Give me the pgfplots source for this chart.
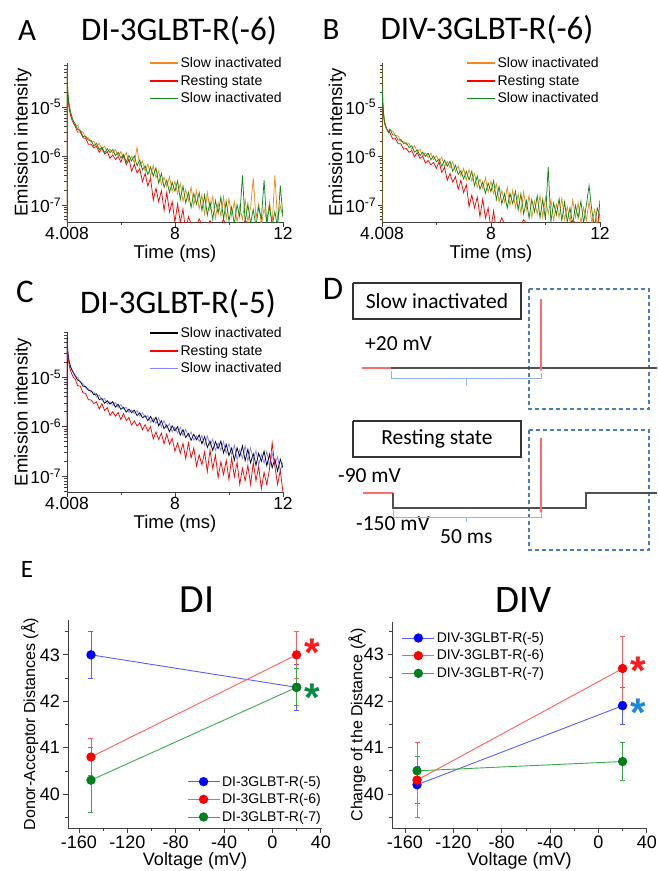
\documentclass[border=0pt]{standalone}
\usepackage{fontspec}
\setmainfont{Liberation Sans}
\newfontfamily\calib{Carlito}
\usepackage{pgfplots}
\pgfplotsset{compat=1.18}
\usetikzlibrary{arrows.meta}

\definecolor{cOr}{HTML}{F5881A}
\definecolor{cRd}{HTML}{FF0000}
\definecolor{cGn}{HTML}{0C8A1C}
\definecolor{cBl}{HTML}{2020FF}
\definecolor{eBl}{HTML}{0000FF}
\definecolor{eBlL}{HTML}{5C5CFF}
\definecolor{eRd}{HTML}{FF0000}
\definecolor{eRdL}{HTML}{FF5C5C}
\definecolor{eGn}{HTML}{00801A}
\definecolor{eGnL}{HTML}{3CAA4C}
\definecolor{astR}{HTML}{FF1A1A}
\definecolor{astG}{HTML}{0A8A46}
\definecolor{astB}{HTML}{1E88D8}
\definecolor{dRed}{HTML}{FF6A6A}
\definecolor{dGray}{HTML}{505050}
\definecolor{dBr}{HTML}{8FB8E6}
\definecolor{dDash}{HTML}{4A7EBB}

\begin{document}
\begin{tikzpicture}
\useasboundingbox (0pt,0pt) rectangle (657pt,-871pt);

% ---------------- Panel A ----------------
\begin{semilogyaxis}[scale only axis, at={(67pt,-222pt)}, anchor=south west, width=216pt, height=159pt,
  xmin=4.008, xmax=12, ymin=4.5e-8, ymax=7.9e-5,
  axis lines*=left, axis line style={black!75, line width=0.8pt},
  tick align=outside, tick style={black!75, line width=0.6pt},
  major tick length=4.5pt, minor tick length=2.5pt,
  xtick={4.008,8,12}, xticklabels={4.008,8,12}, minor xtick={6,10},
  ytick={1e-7,1e-6,1e-5},
  yticklabels={10\textsuperscript{-7},10\textsuperscript{-6},10\textsuperscript{-5}},
  minor ytick={5e-8,6e-8,7e-8,8e-8,9e-8,2e-7,3e-7,4e-7,5e-7,6e-7,7e-7,8e-7,9e-7,2e-6,3e-6,4e-6,5e-6,6e-6,7e-6,8e-6,9e-6,2e-5,3e-5,4e-5,5e-5,6e-5,7e-5},
  tick label style={font=\fontsize{17.5}{20}\selectfont},
  xticklabel style={inner sep=1pt}, yticklabel style={inner sep=1pt},
  xlabel={Time (ms)}, ylabel={Emission intensity},
  label style={font=\fontsize{18.5}{21}\selectfont},
  xlabel style={at={(axis description cs:0.5,-0.2)}, anchor=center},
  ylabel style={at={(axis description cs:-0.205,0.5)}, anchor=center},
  legend cell align=left,
  legend style={at={(1,1)}, anchor=north east, xshift=1pt, yshift=7.75pt, draw=none, fill=none,
     font=\fontsize{14}{16}\selectfont, inner sep=0pt, row sep=2pt},
  legend image code/.code={\draw[#1, line width=1.6pt] (0pt,0pt) -- (28pt,0pt);}]
\addplot[line width=0.75pt, color=cOr] coordinates {(4.008,4.5e-8)(4.01,6e-5)(4.02,3.5e-5)(4.04,2e-5)(4.07,1.3e-5)(4.1,1e-5)(4.15,7.5e-6)(4.2,6e-6)(4.25,5e-6)
(4.3,4.3e-6)(4.4,4.2e-6)(4.5,3.2e-6)(4.6,3.1e-6)(4.7,2.3e-6)(4.8,2.35e-6)(4.9,1.9e-6)(5.0,2.0e-6)
(5.1,1.53e-6)(5.2,1.82e-6)(5.3,1.4e-6)(5.4,1.58e-6)(5.5,1.19e-6)(5.6,1.38e-6)(5.7,1.14e-6)(5.8,1.36e-6)(5.9,1.01e-6)(6.0,1.23e-6)
(6.1,9.3e-7)(6.2,1.17e-6)(6.3,7.6e-7)(6.4,9.95e-7)(6.5,7.3e-7)(6.6,1.5e-6)(6.7,6.1e-7)(6.8,7.9e-7)(6.9,4.9e-7)(7.0,6.9e-7)
(7.1,3.9e-7)(7.2,6.4e-7)(7.3,3.6e-7)(7.4,5.0e-7)(7.5,2.6e-7)(7.6,3.7e-7)(7.7,2.4e-7)(7.8,3.8e-7)(7.9,1.9e-7)(8.0,3.05e-7)
(8.1,1.7e-7)(8.2,2.75e-7)(8.3,1.19e-7)(8.4,2.07e-7)(8.5,1.2e-7)(8.6,2.3e-7)(8.7,9.7e-8)(8.8,1.96e-7)(8.9,8.4e-8)(9.0,1.6e-7)
(9.1,6.5e-8)(9.2,1.8e-7)(9.3,7.8e-8)(9.4,1.48e-7)(9.5,5.4e-8)(9.6,1.12e-7)(9.7,6.0e-8)(9.8,1.48e-7)(9.9,5.2e-8)(10.0,1.35e-7)
(10.1,6.0e-8)(10.2,1.17e-7)(10.3,4.5e-8)(10.4,9.5e-8)(10.5,5.1e-8)(10.6,1.29e-7)(10.7,4.6e-8)(10.8,8.7e-8)(10.9,3.5e-7)(11.0,5.4e-8)
(11.1,1.05e-7)(11.2,4.0e-8)(11.3,8.5e-8)(11.4,4.7e-8)(11.5,1.15e-7)(11.6,4.2e-8)(11.7,4.0e-7)(11.8,4.9e-8)(11.9,9.5e-8)(12.0,5.9e-8)};
\addlegendentry{Slow inactivated}
\addplot[line width=0.75pt, color=cRd] coordinates {(4.008,4.5e-8)(4.01,5.5e-5)(4.02,3e-5)(4.04,1.7e-5)(4.07,1.1e-5)(4.1,8.5e-6)(4.15,6.5e-6)(4.2,5.3e-6)(4.25,4.6e-6)
(4.3,4.2e-6)(4.4,3.07e-6)(4.5,3.1e-6)(4.6,2.35e-6)(4.7,2.28e-6)(4.8,1.74e-6)(4.9,1.75e-6)(5.0,1.47e-6)
(5.1,1.58e-6)(5.2,1.19e-6)(5.3,1.45e-6)(5.4,1.1e-6)(5.5,1.22e-6)(5.6,9.0e-7)(5.7,1.05e-6)(5.8,8.5e-7)(5.9,9.8e-7)(6.0,7.5e-7)
(6.1,1.05e-6)(6.2,6.6e-7)(6.3,8.7e-7)(6.4,4.9e-7)(6.5,6.8e-7)(6.6,4.5e-7)(6.7,5.5e-7)(6.8,3.0e-7)(6.9,4.4e-7)(7.0,2.45e-7)
(7.1,3.5e-7)(7.2,1.26e-7)(7.3,2.2e-7)(7.4,1.17e-7)(7.5,1.95e-7)(7.6,7.8e-8)(7.7,1.8e-7)(7.8,7.2e-8)(7.9,1.17e-7)(8.0,4.5e-8)
(8.1,1.05e-7)(8.2,4.4e-8)(8.3,8.3e-8)(8.4,2.8e-8)(8.5,5.8e-8)(8.7,3e-8)(8.9,5.2e-8)(9.1,3e-8)(9.3,4.8e-8)(9.5,3e-8)(9.8,5.0e-8)(10.0,3e-8)(10.3,3e-8)(10.6,4.8e-8)(11.0,3e-8)(11.4,3e-8)(12.0,3e-8)};
\addlegendentry{Resting state}
\addplot[line width=0.75pt, color=cGn] coordinates {(4.008,4.5e-8)(4.01,6.5e-5)(4.02,3.5e-5)(4.04,2e-5)(4.07,1.3e-5)(4.1,1e-5)(4.15,7.5e-6)(4.2,6e-6)(4.25,5e-6)
(4.3,4.7e-6)(4.4,3.5e-6)(4.5,3.3e-6)(4.6,2.5e-6)(4.7,2.55e-6)(4.8,2.1e-6)(4.9,2.1e-6)(5.0,1.6e-6)
(5.1,1.82e-6)(5.2,1.35e-6)(5.3,1.5e-6)(5.4,1.17e-6)(5.5,1.41e-6)(5.6,1.17e-6)(5.7,1.36e-6)(5.8,1.01e-6)(5.9,1.2e-6)(6.0,9.1e-7)
(6.1,1.07e-6)(6.2,7.5e-7)(6.3,1.03e-6)(6.4,7.9e-7)(6.5,1.0e-6)(6.6,6.3e-7)(6.7,8.3e-7)(6.8,5.2e-7)(6.9,6.3e-7)(7.0,4.2e-7)
(7.1,6.0e-7)(7.2,3.9e-7)(7.3,5.7e-7)(7.4,2.8e-7)(7.5,4.4e-7)(7.6,2.3e-7)(7.7,3.2e-7)(7.8,1.8e-7)(7.9,2.9e-7)(8.0,1.9e-7)
(8.1,3.1e-7)(8.2,1.3e-7)(8.3,2.45e-7)(8.4,1.1e-7)(8.5,1.8e-7)(8.6,8.9e-8)(8.7,1.73e-7)(8.8,1.04e-7)(8.9,1.8e-7)(9.0,7.7e-8)
(9.1,1.6e-7)(9.2,6.2e-8)(9.3,1.17e-7)(9.4,5.1e-8)(9.5,1.23e-7)(9.6,6.8e-8)(9.7,1.45e-7)(9.8,5.1e-8)(9.9,1.2e-7)(10.0,4.7e-8)
(10.1,9.1e-8)(10.2,4.1e-8)(10.3,1.02e-7)(10.4,5.75e-8)(10.5,4.0e-7)(10.6,4.5e-8)(10.7,1.05e-7)(10.8,4.2e-8)(10.9,8.1e-8)(11.0,3.7e-8)
(11.1,9.1e-8)(11.2,5.2e-8)(11.3,3.2e-7)(11.4,4.1e-8)(11.5,9.5e-8)(11.6,3.8e-8)(11.7,7.4e-8)(11.8,3.4e-8)(11.9,2.5e-7)(12.0,5.6e-8)};
\addlegendentry{Slow inactivated}
\end{semilogyaxis}

% ---------------- Panel B ----------------
\begin{semilogyaxis}[scale only axis, at={(382pt,-222pt)}, anchor=south west, width=218pt, height=159pt,
  xmin=4.008, xmax=12, ymin=4.5e-8, ymax=7.9e-5,
  axis lines*=left, axis line style={black!75, line width=0.8pt},
  tick align=outside, tick style={black!75, line width=0.6pt},
  major tick length=4.5pt, minor tick length=2.5pt,
  xtick={4.008,8,12}, xticklabels={4.008,8,12}, minor xtick={6,10},
  ytick={1e-7,1e-6,1e-5},
  yticklabels={10\textsuperscript{-7},10\textsuperscript{-6},10\textsuperscript{-5}},
  minor ytick={5e-8,6e-8,7e-8,8e-8,9e-8,2e-7,3e-7,4e-7,5e-7,6e-7,7e-7,8e-7,9e-7,2e-6,3e-6,4e-6,5e-6,6e-6,7e-6,8e-6,9e-6,2e-5,3e-5,4e-5,5e-5,6e-5,7e-5},
  tick label style={font=\fontsize{17.5}{20}\selectfont},
  xticklabel style={inner sep=1pt}, yticklabel style={inner sep=1pt},
  xlabel={Time (ms)}, ylabel={Emission intensity},
  label style={font=\fontsize{18.5}{21}\selectfont},
  xlabel style={at={(axis description cs:0.5,-0.2)}, anchor=center},
  ylabel style={at={(axis description cs:-0.205,0.5)}, anchor=center},
  legend cell align=left,
  legend style={at={(1,1)}, anchor=north east, xshift=1pt, yshift=7.75pt, draw=none, fill=none,
     font=\fontsize{14}{16}\selectfont, inner sep=0pt, row sep=2pt},
  legend image code/.code={\draw[#1, line width=1.6pt] (0pt,0pt) -- (28pt,0pt);}]
\addplot[line width=0.75pt, color=cOr] coordinates {(4.008,4.5e-8)(4.01,6.5e-5)(4.02,2.5e-5)(4.04,1.2e-5)(4.07,7e-6)(4.1,5e-6)(4.15,4e-6)(4.2,3.4e-6)(4.25,3e-6)
(4.3,3.26e-6)(4.4,3.28e-6)(4.5,2.6e-6)(4.6,2.57e-6)(4.7,1.98e-6)(4.8,2.03e-6)(4.9,1.69e-6)(5.0,1.82e-6)
(5.1,1.36e-6)(5.2,1.62e-6)(5.3,1.24e-6)(5.4,1.38e-6)(5.5,1.01e-6)(5.6,1.15e-6)(5.7,9.4e-7)(5.8,1.14e-6)(5.9,8.4e-7)(6.0,1.02e-6)
(6.1,7.6e-7)(6.2,9.5e-7)(6.3,6.05e-7)(6.4,7.7e-7)(6.5,5.7e-7)(6.6,7.65e-7)(6.7,4.8e-7)(6.8,6.3e-7)(6.9,3.9e-7)(7.0,5.6e-7)
(7.1,3.2e-7)(7.2,5.3e-7)(7.3,3.1e-7)(7.4,4.4e-7)(7.5,2.3e-7)(7.6,3.4e-7)(7.7,2.2e-7)(7.8,3.6e-7)(7.9,1.83e-7)(8.0,3.05e-7)
(8.1,1.7e-7)(8.2,2.7e-7)(8.3,1.16e-7)(8.4,1.98e-7)(8.5,1.14e-7)(8.6,2.3e-7)(8.7,9.7e-8)(8.8,2.0e-7)(8.9,8.8e-8)(9.0,1.7e-7)
(9.1,6.8e-8)(9.2,1.86e-7)(9.3,8.1e-8)(9.4,1.55e-7)(9.5,5.6e-8)(9.6,1.2e-7)(9.7,6.5e-8)(9.8,1.58e-7)(9.9,5.6e-8)(10.0,1.45e-7)
(10.1,6.5e-8)(10.2,1.29e-7)(10.3,4.8e-8)(10.4,1.05e-7)(10.5,5.6e-8)(10.6,1.38e-7)(10.7,5.0e-8)(10.8,9.3e-8)(10.9,4.6e-8)(11.0,1.26e-7)
(11.1,5.6e-8)(11.2,1.1e-7)(11.3,4.2e-8)(11.4,8.9e-8)(11.5,4.8e-8)(11.6,1.2e-7)(11.7,4.3e-8)(11.8,8.1e-8)(11.9,4.0e-8)(12.0,6.3e-8)};
\addlegendentry{Slow inactivated}
\addplot[line width=0.75pt, color=cRd] coordinates {(4.008,4.5e-8)(4.01,6e-5)(4.02,2.3e-5)(4.04,1.1e-5)(4.07,6.5e-6)(4.1,4.6e-6)(4.15,3.8e-6)(4.2,3.4e-6)(4.25,3.2e-6)
(4.3,2.98e-6)(4.4,2.22e-6)(4.5,2.27e-6)(4.6,1.79e-6)(4.7,1.77e-6)(4.8,1.38e-6)(4.9,1.42e-6)(5.0,1.19e-6)
(5.1,1.29e-6)(5.2,9.7e-7)(5.3,1.17e-6)(5.4,8.9e-7)(5.5,9.9e-7)(5.6,7.2e-7)(5.7,8.1e-7)(5.8,6.6e-7)(5.9,7.4e-7)(6.0,5.6e-7)
(6.1,7.6e-7)(6.2,4.6e-7)(6.3,5.9e-7)(6.4,3.2e-7)(6.5,4.4e-7)(6.6,2.95e-7)(6.7,3.8e-7)(6.8,2.1e-7)(6.9,3.2e-7)(7.0,1.8e-7)
(7.1,2.6e-7)(7.2,9.3e-8)(7.3,1.6e-7)(7.4,8.7e-8)(7.5,1.45e-7)(7.6,5.8e-8)(7.7,1.32e-7)(7.8,5.4e-8)(7.9,8.7e-8)(8.0,3.3e-8)
(8.1,7.6e-8)(8.2,3e-8)(8.4,5.5e-8)(8.6,3e-8)(9.0,3e-8)(9.2,5e-8)(9.5,3e-8)(10.0,3e-8)(10.5,3e-8)(11.0,4.8e-8)(11.5,3e-8)(11.9,3e-8)(12.0,1.26e-7)};
\addlegendentry{Resting state}
\addplot[line width=0.75pt, color=cGn] coordinates {(4.008,4.5e-8)(4.01,6.5e-5)(4.02,2.5e-5)(4.04,1.2e-5)(4.07,7e-6)(4.1,5e-6)(4.15,4e-6)(4.2,3.4e-6)(4.25,3e-6)
(4.3,3.55e-6)(4.4,2.7e-6)(4.5,2.66e-6)(4.6,2.11e-6)(4.7,2.16e-6)(4.8,1.81e-6)(4.9,1.86e-6)(5.0,1.49e-6)
(5.1,1.62e-6)(5.2,1.2e-6)(5.3,1.33e-6)(5.4,1.02e-6)(5.5,1.2e-6)(5.6,9.8e-7)(5.7,1.14e-6)(5.8,8.4e-7)(5.9,1.0e-6)(6.0,7.6e-7)
(6.1,8.7e-7)(6.2,6.1e-7)(6.3,8.2e-7)(6.4,6.2e-7)(6.5,7.8e-7)(6.6,4.9e-7)(6.7,6.5e-7)(6.8,4.2e-7)(6.9,5.0e-7)(7.0,3.4e-7)
(7.1,4.85e-7)(7.2,3.25e-7)(7.3,4.9e-7)(7.4,2.47e-7)(7.5,3.9e-7)(7.6,2.1e-7)(7.7,2.95e-7)(7.8,1.72e-7)(7.9,2.8e-7)(8.0,1.87e-7)
(8.1,3.15e-7)(8.2,1.28e-7)(8.3,2.4e-7)(8.4,1.05e-7)(8.5,1.7e-7)(8.6,8.7e-8)(8.7,1.73e-7)(8.8,1.06e-7)(8.9,1.9e-7)(9.0,8.0e-8)
(9.1,1.7e-7)(9.2,6.5e-8)(9.3,1.23e-7)(9.4,5.4e-8)(9.5,1.29e-7)(9.6,7.2e-8)(9.7,1.55e-7)(9.8,5.5e-8)(9.9,1.29e-7)(10.0,5.0e-8)
(10.1,6.0e-7)(10.2,4.5e-8)(10.3,1.1e-7)(10.4,6.3e-8)(10.5,1.35e-7)(10.6,4.8e-8)(10.7,1.15e-7)(10.8,4.5e-8)(10.9,8.7e-8)(11.0,4.0e-8)
(11.1,9.8e-8)(11.2,5.5e-8)(11.3,1.2e-7)(11.4,4.3e-8)(11.5,1.0e-7)(11.6,2.5e-7)(11.7,7.8e-8)(11.8,3.5e-8)(11.9,8.7e-8)(12.0,6.0e-8)};
\addlegendentry{Slow inactivated}
\end{semilogyaxis}

% ---------------- Panel C ----------------
\begin{semilogyaxis}[scale only axis, at={(67pt,-492pt)}, anchor=south west, width=216pt, height=160pt,
  xmin=4.008, xmax=12, ymin=4.8e-8, ymax=8.1e-5,
  axis lines*=left, axis line style={black!75, line width=0.8pt},
  tick align=outside, tick style={black!75, line width=0.6pt},
  major tick length=4.5pt, minor tick length=2.5pt,
  xtick={4.008,8,12}, xticklabels={4.008,8,12}, minor xtick={6,10},
  ytick={1e-7,1e-6,1e-5},
  yticklabels={10\textsuperscript{-7},10\textsuperscript{-6},10\textsuperscript{-5}},
  minor ytick={5e-8,6e-8,7e-8,8e-8,9e-8,2e-7,3e-7,4e-7,5e-7,6e-7,7e-7,8e-7,9e-7,2e-6,3e-6,4e-6,5e-6,6e-6,7e-6,8e-6,9e-6,2e-5,3e-5,4e-5,5e-5,6e-5,7e-5,8e-5},
  tick label style={font=\fontsize{17.5}{20}\selectfont},
  xticklabel style={inner sep=1pt}, yticklabel style={inner sep=1pt},
  xlabel={Time (ms)}, ylabel={Emission intensity},
  label style={font=\fontsize{18.5}{21}\selectfont},
  xlabel style={at={(axis description cs:0.5,-0.2)}, anchor=center},
  ylabel style={at={(axis description cs:-0.205,0.5)}, anchor=center},
  legend cell align=left,
  legend style={at={(1,1)}, anchor=north east, xshift=1pt, yshift=6.75pt, draw=none, fill=none,
     font=\fontsize{14}{16}\selectfont, inner sep=0pt, row sep=2pt},
  legend image code/.code={\draw[#1, line width=1.6pt] (0pt,0pt) -- (28pt,0pt);}]
\addplot[line width=0.75pt, color=black] coordinates {(4.008,8e-7)(4.01,6.4e-5)(4.02,4.5e-5)(4.04,3.2e-5)(4.07,2.3e-5)(4.1,1.9e-5)(4.15,1.55e-5)(4.2,1.35e-5)(4.25,1.2e-5)
(4.3,1.1e-5)(4.4,8.7e-6)(4.5,8.1e-6)(4.6,6.55e-6)(4.7,6.4e-6)(4.8,5.4e-6)(4.9,5.3e-6)(5.0,4.4e-6)
(5.1,4.6e-6)(5.2,3.5e-6)(5.3,3.7e-6)(5.4,2.96e-6)(5.5,3.33e-6)(5.6,2.84e-6)(5.7,3.18e-6)(5.8,2.48e-6)(5.9,2.82e-6)(6.0,2.24e-6)
(6.1,2.45e-6)(6.2,1.96e-6)(6.3,2.25e-6)(6.4,1.92e-6)(6.5,2.15e-6)(6.6,1.67e-6)(6.7,1.9e-6)(6.8,1.51e-6)(6.9,1.66e-6)(7.0,1.32e-6)
(7.1,1.61e-6)(7.2,1.24e-6)(7.3,1.55e-6)(7.4,1.04e-6)(7.5,1.32e-6)(7.6,9.1e-7)(7.7,1.08e-6)(7.8,7.9e-7)(7.9,1.04e-6)(8.0,8.2e-7)
(8.1,1.0e-6)(8.2,6.7e-7)(8.3,8.7e-7)(8.4,6.0e-7)(8.5,7.3e-7)(8.6,5.3e-7)(8.7,7.0e-7)(8.8,5.4e-7)(8.9,6.8e-7)(9.0,4.5e-7)
(9.1,6.3e-7)(9.2,3.8e-7)(9.3,5.1e-7)(9.4,3.3e-7)(9.5,5.0e-7)(9.6,3.6e-7)(9.7,5.1e-7)(9.8,2.95e-7)(9.9,4.4e-7)(10.0,2.6e-7)
(10.1,3.7e-7)(10.2,2.1e-7)(10.3,3.75e-7)(10.4,2.5e-7)(10.5,4.1e-7)(10.6,2.06e-7)(10.7,3.5e-7)(10.8,1.86e-7)(10.9,2.85e-7)(11.0,1.67e-7)
(11.1,2.9e-7)(11.2,1.99e-7)(11.3,3.2e-7)(11.4,1.63e-7)(11.5,2.75e-7)(11.6,1.48e-7)(11.7,2.2e-7)(11.8,1.27e-7)(11.9,2.2e-7)(12.0,1.48e-7)};
\addlegendentry{Slow inactivated}
\addplot[line width=0.75pt, color=cRd] coordinates {(4.008,6e-7)(4.01,5.8e-5)(4.02,4e-5)(4.04,2.8e-5)(4.07,2.0e-5)(4.1,1.6e-5)(4.15,1.3e-5)(4.2,1.1e-5)(4.25,9.8e-6)
(4.3,9.4e-6)(4.4,6.7e-6)(4.5,6.55e-6)(4.6,4.8e-6)(4.7,4.65e-6)(4.8,3.48e-6)(4.9,3.45e-6)(5.0,2.92e-6)
(5.1,3.15e-6)(5.2,2.26e-6)(5.3,2.9e-6)(5.4,2.11e-6)(5.5,2.42e-6)(5.6,1.67e-6)(5.7,2.01e-6)(5.8,1.63e-6)(5.9,1.94e-6)(6.0,1.39e-6)
(6.1,1.83e-6)(6.2,1.33e-6)(6.3,1.53e-6)(6.4,1.08e-6)(6.5,1.3e-6)(6.6,1.03e-6)(6.7,1.2e-6)(6.8,8.6e-7)(6.9,1.1e-6)(7.0,8.0e-7)
(7.1,1.0e-6)(7.2,5.6e-7)(7.3,7.8e-7)(7.4,5.5e-7)(7.5,7.4e-7)(7.6,4.5e-7)(7.7,7.1e-7)(7.8,4.4e-7)(7.9,5.75e-7)(8.0,3.2e-7)
(8.1,4.7e-7)(8.2,2.9e-7)(8.3,4.6e-7)(8.4,2.26e-7)(8.5,4.7e-7)(8.6,2.35e-7)(8.7,3.7e-7)(8.8,1.6e-7)(8.9,2.7e-7)(9.0,1.7e-7)
(9.1,3.1e-7)(9.2,1.23e-7)(9.3,3.4e-7)(9.4,1.41e-7)(9.5,2.7e-7)(9.6,9.3e-8)(9.7,1.95e-7)(9.8,1.07e-7)(9.9,2.1e-7)(10.0,8.5e-8)
(10.1,2.35e-7)(10.2,9.8e-8)(10.3,1.9e-7)(10.4,6.8e-8)(10.5,1.45e-7)(10.6,8.1e-8)(10.7,1.66e-7)(10.8,6.8e-8)(10.9,1.9e-7)(11.0,8.1e-8)
(11.1,1.58e-7)(11.2,5.6e-8)(11.3,1.2e-7)(11.4,6.8e-8)(11.5,1.38e-7)(11.6,4.7e-7)(11.7,1.58e-7)(11.8,6.8e-8)(11.9,1.32e-7)(12.0,4.7e-8)};
\addlegendentry{Resting state}
\addplot[line width=0.75pt, color=cBl, opacity=0.55] coordinates {(4.008,7e-7)(4.01,6.8e-5)(4.02,4.6e-5)(4.04,3.3e-5)(4.07,2.4e-5)(4.1,1.95e-5)(4.15,1.6e-5)(4.2,1.4e-5)(4.25,1.22e-5)
(4.3,1.03e-5)(4.4,9.9e-6)(4.5,7.9e-6)(4.6,7.4e-6)(4.7,6.0e-6)(4.8,5.8e-6)(4.9,4.97e-6)(5.0,5.0e-6)
(5.1,3.93e-6)(5.2,4.35e-6)(5.3,3.47e-6)(5.4,3.7e-6)(5.5,2.86e-6)(5.6,3.19e-6)(5.7,2.7e-6)(5.8,3.1e-6)(5.9,2.42e-6)(6.0,2.8e-6)
(6.1,2.29e-6)(6.2,2.45e-6)(6.3,1.93e-6)(6.4,2.16e-6)(6.5,1.83e-6)(6.6,2.1e-6)(6.7,1.64e-6)(6.8,1.9e-6)(6.9,1.55e-6)(7.0,1.66e-6)
(7.1,1.21e-6)(7.2,1.49e-6)(7.3,1.15e-6)(7.4,1.52e-6)(7.5,9.9e-7)(7.6,1.33e-6)(7.7,9.4e-7)(7.8,1.15e-6)(7.9,7.8e-7)(8.0,9.8e-7)
(8.1,7.4e-7)(8.2,9.7e-7)(8.3,6.6e-7)(8.4,8.8e-7)(8.5,6.4e-7)(8.6,7.8e-7)(8.7,5.3e-7)(8.8,6.5e-7)(8.9,5.0e-7)(9.0,6.6e-7)
(9.1,4.2e-7)(9.2,6.5e-7)(9.3,4.15e-7)(9.4,5.6e-7)(9.5,3.3e-7)(9.6,4.7e-7)(9.7,3.35e-7)(9.8,5.0e-7)(9.9,2.9e-7)(10.0,4.5e-7)
(10.1,2.8e-7)(10.2,4.2e-7)(10.3,2.17e-7)(10.4,3.45e-7)(10.5,2.29e-7)(10.6,4.1e-7)(10.7,2.0e-7)(10.8,3.7e-7)(10.9,2.16e-7)(11.0,3.3e-7)
(11.1,1.69e-7)(11.2,2.74e-7)(11.3,1.82e-7)(11.4,3.2e-7)(11.5,1.6e-7)(11.6,2.9e-7)(11.7,1.68e-7)(11.8,2.5e-7)(11.9,1.28e-7)(12.0,1.9e-7)};
\addlegendentry{Slow inactivated}
\end{semilogyaxis}

% ---------------- Panel E : DI ----------------
\begin{axis}[scale only axis, at={(68pt,-828pt)}, anchor=south west, width=254pt, height=208pt,
  xmin=-169, xmax=41, ymin=39.27, ymax=43.75,
  axis lines*=left, axis line style={black!75, line width=0.9pt},
  tick align=outside, tick style={black!75, line width=0.7pt},
  major tick length=4.5pt, minor tick length=3pt,
  xtick={-160,-120,-80,-40,0,40}, xticklabels={-160,-120,-80,-40,0,40},
  minor xtick={-140,-100,-60,-20,20},
  ytick={40,41,42,43}, yticklabels={40,41,42,43}, minor ytick={39.5,40.5,41.5,42.5,43.5},
  tick label style={font=\fontsize{18}{20}\selectfont},
  xlabel={Voltage (mV)},
  xlabel style={font=\fontsize{18}{20}\selectfont, at={(axis description cs:0.5,-0.16)}, anchor=center},
  ylabel={Donor-Acceptor Distances (Å)},
  ylabel style={font=\fontsize{16}{18}\selectfont, at={(axis description cs:-0.15,0.5)}, anchor=center},
  legend cell align=left,
  legend style={at={(1,0)}, anchor=south east, xshift=1pt, yshift=3pt, draw=none, fill=none,
     font=\fontsize{14}{16}\selectfont, inner sep=0pt, row sep=2pt},
  legend image code/.code={\draw[mark repeat=2, mark phase=2, #1] plot coordinates {(0pt,0pt) (16pt,0pt) (32pt,0pt)};}]
\addplot[color=eBlL, line width=0.9pt, mark=*, mark size=4.2pt, mark options={draw=eBl, fill=eBl},
  error bars/.cd, y dir=both, y explicit, error bar style={color=eBlL, line width=0.9pt},
  error mark options={rotate=90, color=eBlL, mark size=2.5pt, line width=0.9pt}]
  coordinates {(-150,43.0) +- (0,0.5) (20,42.3) +- (0,0.5)};
\addlegendentry{DI-3GLBT-R(-5)}
\addplot[color=eRdL, line width=0.9pt, mark=*, mark size=4.2pt, mark options={draw=eRd, fill=eRd},
  error bars/.cd, y dir=both, y explicit, error bar style={color=eRdL, line width=0.9pt},
  error mark options={rotate=90, color=eRdL, mark size=2.5pt, line width=0.9pt}]
  coordinates {(-150,40.8) +- (0,0.4) (20,43.0) +- (0,0.5)};
\addlegendentry{DI-3GLBT-R(-6)}
\addplot[color=eGnL, line width=0.9pt, mark=*, mark size=4.2pt, mark options={draw=eGn, fill=eGn},
  error bars/.cd, y dir=both, y explicit, error bar style={color=eGnL, line width=0.9pt},
  error mark options={rotate=90, color=eGnL, mark size=2.5pt, line width=0.9pt}]
  coordinates {(-150,40.3) +- (0,0.7) (20,42.3) +- (0,0.4)};
\addlegendentry{DI-3GLBT-R(-7)}
\end{axis}

% ---------------- Panel E : DIV ----------------
\begin{axis}[scale only axis, at={(392pt,-828pt)}, anchor=south west, width=255pt, height=206pt,
  xmin=-170.7, xmax=40.2, ymin=39.27, ymax=43.7,
  axis lines*=left, axis line style={black!75, line width=0.9pt},
  tick align=outside, tick style={black!75, line width=0.7pt},
  major tick length=4.5pt, minor tick length=3pt,
  xtick={-160,-120,-80,-40,0,40}, xticklabels={-160,-120,-80,-40,0,40},
  minor xtick={-140,-100,-60,-20,20},
  ytick={40,41,42,43}, yticklabels={40,41,42,43}, minor ytick={39.5,40.5,41.5,42.5,43.5},
  tick label style={font=\fontsize{18}{20}\selectfont},
  xlabel={Voltage (mV)},
  xlabel style={font=\fontsize{18}{20}\selectfont, at={(axis description cs:0.5,-0.16)}, anchor=center},
  ylabel={Change of the Distance (Å)},
  ylabel style={font=\fontsize{16}{18}\selectfont, at={(axis description cs:-0.137,0.5)}, anchor=center},
  legend cell align=left,
  legend style={at={(0,1)}, anchor=north west, xshift=9.7pt, yshift=-8pt, draw=none, fill=none,
     font=\fontsize{14}{16}\selectfont, inner sep=0pt, row sep=2pt},
  legend image code/.code={\draw[mark repeat=2, mark phase=2, #1] plot coordinates {(0pt,0pt) (16pt,0pt) (32pt,0pt)};}]
\addplot[color=eBlL, line width=0.9pt, mark=*, mark size=4.2pt, mark options={draw=eBl, fill=eBl},
  error bars/.cd, y dir=both, y explicit, error bar style={color=eBlL, line width=0.9pt},
  error mark options={rotate=90, color=eBlL, mark size=2.5pt, line width=0.9pt}]
  coordinates {(-150,40.2) +- (0,0.4) (20,41.9) +- (0,0.4)};
\addlegendentry{DIV-3GLBT-R(-5)}
\addplot[color=eRdL, line width=0.9pt, mark=*, mark size=4.2pt, mark options={draw=eRd, fill=eRd},
  error bars/.cd, y dir=both, y explicit, error bar style={color=eRdL, line width=0.9pt},
  error mark options={rotate=90, color=eRdL, mark size=2.5pt, line width=0.9pt}]
  coordinates {(-150,40.3) +- (0,0.8) (20,42.7) +- (0,0.7)};
\addlegendentry{DIV-3GLBT-R(-6)}
\addplot[color=eGnL, line width=0.9pt, mark=*, mark size=4.2pt, mark options={draw=eGn, fill=eGn},
  error bars/.cd, y dir=both, y explicit, error bar style={color=eGnL, line width=0.9pt},
  error mark options={rotate=90, color=eGnL, mark size=2.5pt, line width=0.9pt}]
  coordinates {(-150,40.5) +- (0,0.3) (20,40.7) +- (0,0.4)};
\addlegendentry{DIV-3GLBT-R(-7)}
\addplot[forget plot, only marks, mark=*, mark size=4.2pt, mark options={draw=eRd, fill=eRd}] coordinates {(-150,40.3)};
\end{axis}

% ---------------- overlay: titles, letters, panel D ----------------
\begin{axis}[at={(0pt,0pt)}, anchor=north west, scale only axis, width=657pt, height=871pt,
  xmin=0, xmax=657, ymin=0, ymax=871, y dir=reverse, hide axis, clip=false]
\node[font=\calib\fontsize{31}{31}\selectfont, anchor=base, inner sep=0pt] at (axis cs:27,40) {A};
\node[font=\calib\fontsize{31}{31}\selectfont, anchor=base, inner sep=0pt] at (axis cs:331,39) {B};
\node[font=\calib\fontsize{33}{33}\selectfont, anchor=base, inner sep=0pt] at (axis cs:25,302) {C};
\node[font=\calib\fontsize{33}{33}\selectfont, anchor=base, inner sep=0pt] at (axis cs:333,299) {D};
\node[font=\calib\fontsize{25}{25}\selectfont, anchor=base, inner sep=0pt] at (axis cs:27,577) {E};
\node[font=\calib\fontsize{33}{33}\selectfont, anchor=base, inner sep=0pt] at (axis cs:179,40) {DI-3GLBT-R(-6)};
\node[font=\calib\fontsize{33}{33}\selectfont, anchor=base, inner sep=0pt] at (axis cs:487,39) {DIV-3GLBT-R(-6)};
\node[font=\calib\fontsize{33}{33}\selectfont, anchor=base, inner sep=0pt] at (axis cs:178,313) {DI-3GLBT-R(-5)};
\node[font=\calib\fontsize{40}{40}\selectfont, anchor=base, inner sep=0pt] at (axis cs:197,612) {DI};
\node[font=\calib\fontsize{39}{39}\selectfont, anchor=base, inner sep=0pt] at (axis cs:523.5,612) {DIV};
\node[font=\bfseries\fontsize{40}{40}\selectfont, text=astR, anchor=base, inner sep=0pt] at (axis cs:312.3,666.5) {*};
\node[font=\bfseries\fontsize{40}{40}\selectfont, text=astG, anchor=base, inner sep=0pt] at (axis cs:312.3,711.5) {*};
\node[font=\bfseries\fontsize{40}{40}\selectfont, text=astR, anchor=base, inner sep=0pt] at (axis cs:638.3,684) {*};
\node[font=\bfseries\fontsize{40}{40}\selectfont, text=astB, anchor=base, inner sep=0pt] at (axis cs:638.3,726.5) {*};
\addplot[black!80, line width=1.1pt] coordinates {(353,283) (521,283) (521,319) (353,319) (353,283)};
\node[font=\calib\fontsize{21.5}{21.5}\selectfont, anchor=center, inner sep=0pt] at (axis cs:437,301) {Slow inactivated};
\node[font=\calib\fontsize{21.5}{21.5}\selectfont, anchor=base west, inner sep=0pt] at (axis cs:365,350) {+20 mV};
\addplot[dDash, line width=1.3pt, dash pattern=on 4pt off 3pt] coordinates {(529,289) (649,289) (649,409) (529,409) (529,289)};
\addplot[dRed, line width=1.3pt] coordinates {(362,368) (391,368)};
\addplot[dGray, line width=1.3pt] coordinates {(391,368) (657,368)};
\addplot[dBr, line width=0.9pt] coordinates {(391,371) (391,378) (541,378) (541,373)};
\addplot[dBr, line width=0.9pt] coordinates {(466,378) (466,386)};
\addplot[dRed, line width=1.3pt, -{Stealth[length=3pt,width=3pt]}] coordinates {(541,299) (541,371)};
\addplot[black!80, line width=1.1pt] coordinates {(353,421) (521,421) (521,457) (353,457) (353,421)};
\node[font=\calib\fontsize{21.5}{21.5}\selectfont, anchor=center, inner sep=0pt] at (axis cs:437,439) {Resting state};
\node[font=\calib\fontsize{21.5}{21.5}\selectfont, anchor=base west, inner sep=0pt] at (axis cs:338,482) {-90 mV};
\node[font=\calib\fontsize{21.5}{21.5}\selectfont, anchor=base west, inner sep=0pt] at (axis cs:356,530) {-150 mV};
\node[font=\calib\fontsize{21.5}{21.5}\selectfont, anchor=base west, inner sep=0pt] at (axis cs:440,543) {50 ms};
\addplot[dDash, line width=1.3pt, dash pattern=on 4pt off 3pt] coordinates {(529,430) (649,430) (649,550) (529,550) (529,430)};
\addplot[dRed, line width=1.3pt] coordinates {(363,493) (393,493)};
\addplot[dGray, line width=1.3pt] coordinates {(393,493) (393,508) (586,508) (586,493) (657,493)};
\addplot[dBr, line width=0.9pt] coordinates {(393,510) (393,517) (541,517) (541,512)};
\addplot[dBr, line width=0.9pt] coordinates {(466,517) (466,522)};
\addplot[dRed, line width=1.3pt, -{Stealth[length=3pt,width=3pt]}] coordinates {(541,438) (541,513)};
\end{axis}
\end{tikzpicture}
\end{document}
